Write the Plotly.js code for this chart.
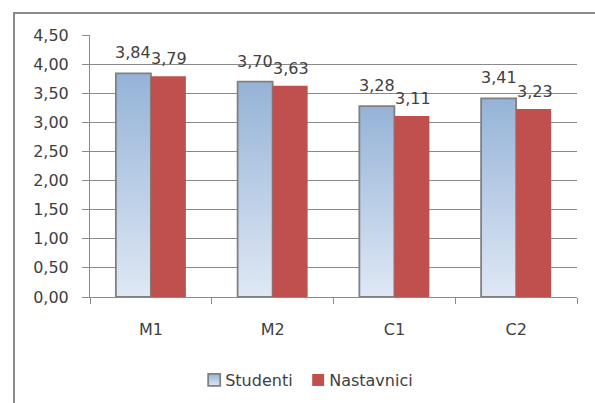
<!DOCTYPE html>
<html>
<head>
<meta charset="utf-8">
<script src="https://cdn.plot.ly/plotly-3.0.1.min.js"></script>
<style>
  html, body { margin: 0; padding: 0; background: #ffffff; }
  #chart { width: 595px; height: 403px; }
</style>
</head>
<body>
<div id="chart"></div>
<script>
const categories = ["M1", "M2", "C1", "C2"];
const studenti = [3.84, 3.70, 3.28, 3.41];
const nastavnici = [3.79, 3.63, 3.11, 3.23];
const seriesNames = ["Studenti", "Nastavnici"];
const yTicks = [0, 0.5, 1, 1.5, 2, 2.5, 3, 3.5, 4, 4.5];

const FONT = "DejaVu Sans, Verdana, sans-serif";
const TXT = "#404040";
const GRID = "#8a8a8a";

function fmt(v) { return v.toFixed(2).replace(".", ","); }

const traces = [
  {
    type: "bar", name: seriesNames[0], x: categories, y: studenti,
    marker: { color: "#b3c8e8", line: { color: "#808080", width: 1.8 } },
    hoverinfo: "skip"
  },
  {
    type: "bar", name: seriesNames[1], x: categories, y: nastavnici,
    marker: { color: "#c0504d", line: { color: "#c0504d", width: 0 } },
    hoverinfo: "skip"
  }
];

const annotations = [];
categories.forEach((c, i) => {
  annotations.push({ x: c, y: studenti[i], text: fmt(studenti[i]), showarrow: false,
    xref: "x", yref: "y", xshift: -17.5, yshift: 9, yanchor: "bottom",
    font: { family: FONT, size: 16, color: TXT } });
  annotations.push({ x: c, y: nastavnici[i], text: fmt(nastavnici[i]), showarrow: false,
    xref: "x", yref: "y", xshift: 18.5, yshift: 6, yanchor: "bottom",
    font: { family: FONT, size: 16, color: TXT } });
});

const layout = {
  width: 595, height: 403,
  margin: { l: 90, r: 18, t: 35, b: 106, autoexpand: false },
  paper_bgcolor: "rgba(0,0,0,0)", plot_bgcolor: "#ffffff",
  separators: ",.",
  font: { family: FONT, size: 16, color: TXT },
  barmode: "group", bargap: 0.425, bargroupgap: 0,
  showlegend: true,
  legend: { orientation: "h", x: 0.409, xanchor: "center", y: -0.317, yanchor: "middle",
    font: { family: FONT, size: 16, color: TXT }, traceorder: "normal",
    itemwidth: 30, entrywidth: 59, entrywidthmode: "pixels" },
  xaxis: {
    type: "category", showgrid: false, showline: true, linecolor: GRID, linewidth: 1,
    ticks: "outside", tickson: "boundaries", ticklen: 6, tickcolor: GRID, tickwidth: 1,
    ticklabelstandoff: 18,
    tickfont: { family: FONT, size: 16, color: TXT }, fixedrange: true
  },
  yaxis: {
    range: [0, 4.5], tickvals: yTicks, tickformat: ".2f",
    showgrid: true, gridcolor: GRID, gridwidth: 1, zeroline: false,
    showline: true, linecolor: GRID, linewidth: 1,
    ticks: "outside", ticklen: 7, tickcolor: GRID, tickwidth: 1,
    ticklabelstandoff: 10,
    tickfont: { family: FONT, size: 16, color: TXT }, fixedrange: true
  },
  annotations: annotations,
  shapes: [
    { type: "rect", xref: "paper", yref: "paper",
      x0: (14 - 90) / 487, x1: 1.06, y0: -0.45, y1: (297 - 13) / 262,
      line: { color: "#8a8a8a", width: 2 }, fillcolor: "rgba(0,0,0,0)", layer: "below" }
  ]
};

Plotly.newPlot("chart", traces, layout, { staticPlot: true, displayModeBar: false }).then(gd => {
  const svg = gd.querySelector("svg.main-svg");
  const ns = "http://www.w3.org/2000/svg";
  let defs = svg.querySelector("defs");
  if (!defs) { defs = document.createElementNS(ns, "defs"); svg.insertBefore(defs, svg.firstChild); }
  const g = document.createElementNS(ns, "linearGradient");
  g.setAttribute("id", "gradStudenti");
  g.setAttribute("x1", "0"); g.setAttribute("y1", "0");
  g.setAttribute("x2", "0"); g.setAttribute("y2", "1");
  [["0", "#95b3d7"], ["1", "#dfe8f5"]].forEach(([o, c]) => {
    const s = document.createElementNS(ns, "stop");
    s.setAttribute("offset", o); s.setAttribute("stop-color", c);
    g.appendChild(s);
  });
  defs.appendChild(g);
  const barTraces = gd.querySelectorAll(".barlayer .trace.bars");
  if (barTraces[0]) barTraces[0].querySelectorAll("path").forEach(p => { p.style.fill = "url(#gradStudenti)"; });
  const legTraces = gd.querySelectorAll(".legend .traces");
  if (legTraces[0]) legTraces[0].querySelectorAll(".legendpoints path").forEach(p => { p.style.fill = "url(#gradStudenti)"; });
  // tighten gap between legend swatch and its text
  gd.querySelectorAll(".legend .traces .legendpoints").forEach(lp => {
    lp.setAttribute("transform", "translate(9,0)");
  });
  // let the last legend label overflow its narrow entry box
  gd.querySelectorAll(".legend [clip-path]").forEach(el => el.removeAttribute("clip-path"));
});
</script>
</body>
</html>
